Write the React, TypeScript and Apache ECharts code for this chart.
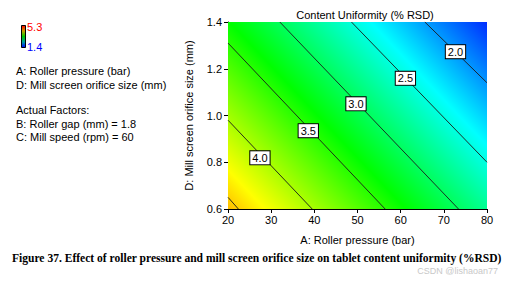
import React, { useEffect, useRef } from "react";
import * as echarts from "echarts";

// Axis ranges and ticks
const xTicks = [20, 30, 40, 50, 60, 70, 80];
const yTicks = [0.6, 0.8, 1.0, 1.2, 1.4];

// Response (% RSD) read at the plot corners
const cornerA = [20, 80];
const cornerD = [0.6, 1.4];
const cornerValues = [
  [4.58, 2.79], // D = 0.6 : A = 20, 80
  [3.36, 1.57], // D = 1.4 : A = 20, 80
];

// Colour scale
const scaleMin = 1.4;
const scaleMax = 5.3;
const scaleValues = [1.4, 2.375, 3.35, 4.325, 5.3];
const scaleColors = ["#0000ff", "#00ffff", "#00ff00", "#ffff00", "#ff0000"];

// Contour lines
const contourLevels = [4.5, 4.0, 3.5, 3.0, 2.5, 2.0];
const contourStart = [
  [20, 0.65],
  [20, 0.98],
  [20, 1.31],
  [32.0, 1.4],
  [48.6, 1.4],
  [65.6, 1.4],
];
const contourEnd = [
  [22.4, 0.6],
  [39.5, 0.6],
  [56.4, 0.6],
  [73.4, 0.6],
  [80, 0.8],
  [80, 1.14],
];

// Contour labels
const labelText = ["2.0", "2.5", "3.0", "3.5", "4.0"];
const labelA = [72.7, 61.1, 49.65, 38.6, 27.4];
const labelD = [1.273, 1.159, 1.05, 0.935, 0.819];

const legendLines = [
  "A: Roller pressure (bar)",
  "D: Mill screen orifice size (mm)",
  "",
  "Actual Factors:",
  "B: Roller gap (mm) = 1.8",
  "C: Mill speed (rpm) = 60",
];

const FONT = "Liberation Sans, Arial, sans-serif";

export default function App() {
  const ref = useRef<HTMLDivElement>(null);
  useEffect(() => {
    document.body.style.margin = "0";
    const chart = echarts.init(ref.current!, undefined, { renderer: "svg" });

    const gradStops = scaleValues
      .map((v, i) => ({
        offset: (scaleMax - v) / (scaleMax - scaleMin),
        color: scaleColors[i],
      }))
      .sort((a, b) => a.offset - b.offset);

    const series: any[] = [];

    series.push({
      type: "custom",
      silent: true,
      data: [[cornerA[0], cornerD[0]]],
      clip: true,
      z: 1,
      renderItem: (params: any, api: any) => {
        const bl = api.coord([cornerA[0], cornerD[0]]);
        const br = api.coord([cornerA[1], cornerD[0]]);
        const tl = api.coord([cornerA[0], cornerD[1]]);
        const zBL = cornerValues[0][0];
        const zBR = cornerValues[0][1];
        const zTL = cornerValues[1][0];
        const gx = (zBR - zBL) / (br[0] - bl[0]);
        const gy = (zTL - zBL) / (tl[1] - bl[1]);
        const g2 = gx * gx + gy * gy;
        const s = (scaleMax - zBL) / g2;
        const e = (scaleMin - zBL) / g2;
        const fill = new echarts.graphic.LinearGradient(
          bl[0] + gx * s,
          bl[1] + gy * s,
          bl[0] + gx * e,
          bl[1] + gy * e,
          gradStops,
          true
        );
        return {
          type: "rect",
          shape: {
            x: tl[0],
            y: tl[1],
            width: br[0] - bl[0],
            height: bl[1] - tl[1],
          },
          style: { fill },
        };
      },
    });

    contourLevels.forEach((lvl, i) => {
      series.push({
        type: "line",
        name: String(lvl),
        data: [contourStart[i], contourEnd[i]],
        symbol: "none",
        silent: true,
        z: 3,
        lineStyle: { color: "#1a1a1a", width: 0.9 },
      });
    });

    series.push({
      type: "scatter",
      symbolSize: 0,
      z: 5,
      silent: true,
      itemStyle: { opacity: 1 },
      data: labelText.map((t, i) => [labelA[i], labelD[i], t]),
      label: {
        show: true,
        position: "inside",
        formatter: (p: any) => p.value[2],
        color: "#000",
        opacity: 1,
        fontFamily: FONT,
        fontSize: 11,
        backgroundColor: "#ffffff",
        borderColor: "#000",
        borderWidth: 1,
        padding: [1, 2, 0, 2],
        lineHeight: 12,
      },
    });

    const graphics: any[] = [
      {
        type: "rect",
        left: 21,
        top: 25,
        shape: { width: 4, height: 22 },
        style: {
          fill: new echarts.graphic.LinearGradient(0, 0, 0, 1, [
            { offset: 0, color: "#ff0000" },
            { offset: 0.25, color: "#c8a000" },
            { offset: 0.5, color: "#00c800" },
            { offset: 0.75, color: "#00a0a0" },
            { offset: 1, color: "#0000ff" },
          ]),
          stroke: "#000",
          lineWidth: 1,
        },
      },
      {
        type: "text",
        left: 27,
        top: 21,
        style: { text: String(scaleMax), fill: "#ff0000", font: `11px ${FONT}` },
      },
      {
        type: "text",
        left: 27,
        top: 41,
        style: { text: String(scaleMin), fill: "#0000ff", font: `11px ${FONT}` },
      },
    ];
    const legendY = [65, 79, 0, 104, 118, 131];
    legendLines.forEach((t, i) => {
      if (!t) return;
      graphics.push({
        type: "text",
        left: 16,
        top: legendY[i],
        style: { text: t, fill: "#000", font: `11px ${FONT}` },
      });
    });
    graphics.push({
      type: "text",
      left: 12,
      top: 252,
      style: {
        text: "Figure 37. Effect of roller pressure and mill screen orifice size on tablet content uniformity (%RSD)",
        fill: "#000",
        font: `bold 11.55px "Liberation Serif", "Times New Roman", serif`,
      },
    });
    graphics.push({
      type: "text",
      right: 8,
      top: 266,
      style: {
        text: "CSDN @lishaoan77",
        fill: "#c8c8c8",
        font: `9px ${FONT}`,
      },
    });

    chart.setOption({
      animation: false,
      backgroundColor: "#fff",
      title: {
        text: "Content Uniformity (% RSD)",
        left: 360,
        textAlign: "center",
        top: 4,
        textStyle: { fontFamily: FONT, fontSize: 11, fontWeight: "normal", color: "#000" },
      },
      grid: { left: 228, right: 19, top: 22, bottom: 72 },
      xAxis: {
        type: "value",
        min: xTicks[0],
        max: xTicks[xTicks.length - 1],
        interval: 10,
        name: "A: Roller pressure (bar)",
        nameLocation: "middle",
        nameGap: 25,
        nameTextStyle: { fontFamily: FONT, fontSize: 11, color: "#000" },
        axisLine: { lineStyle: { color: "#000", width: 1 } },
        axisTick: { show: true, length: 4, lineStyle: { color: "#000" } },
        axisLabel: { fontFamily: FONT, fontSize: 11, color: "#000", margin: 5 },
        splitLine: { show: false },
      },
      yAxis: {
        type: "value",
        min: yTicks[0],
        max: yTicks[yTicks.length - 1],
        interval: 0.2,
        name: "D: Mill screen orifice size (mm)",
        nameLocation: "middle",
        nameGap: 34,
        nameTextStyle: { fontFamily: FONT, fontSize: 11, color: "#000" },
        axisLine: { show: true, lineStyle: { color: "#000", width: 1 } },
        axisTick: { show: true, length: 4, lineStyle: { color: "#000" } },
        axisLabel: {
          fontFamily: FONT,
          fontSize: 11,
          color: "#000",
          margin: 6,
          formatter: (v: number) => v.toFixed(1),
        },
        splitLine: { show: false },
      },
      graphic: graphics,
      series,
    });
    return () => chart.dispose();
  }, []);
  return <div ref={ref} style={{ position: "absolute", left: 0, top: 0, width: 506, height: 281 }} />;
}
